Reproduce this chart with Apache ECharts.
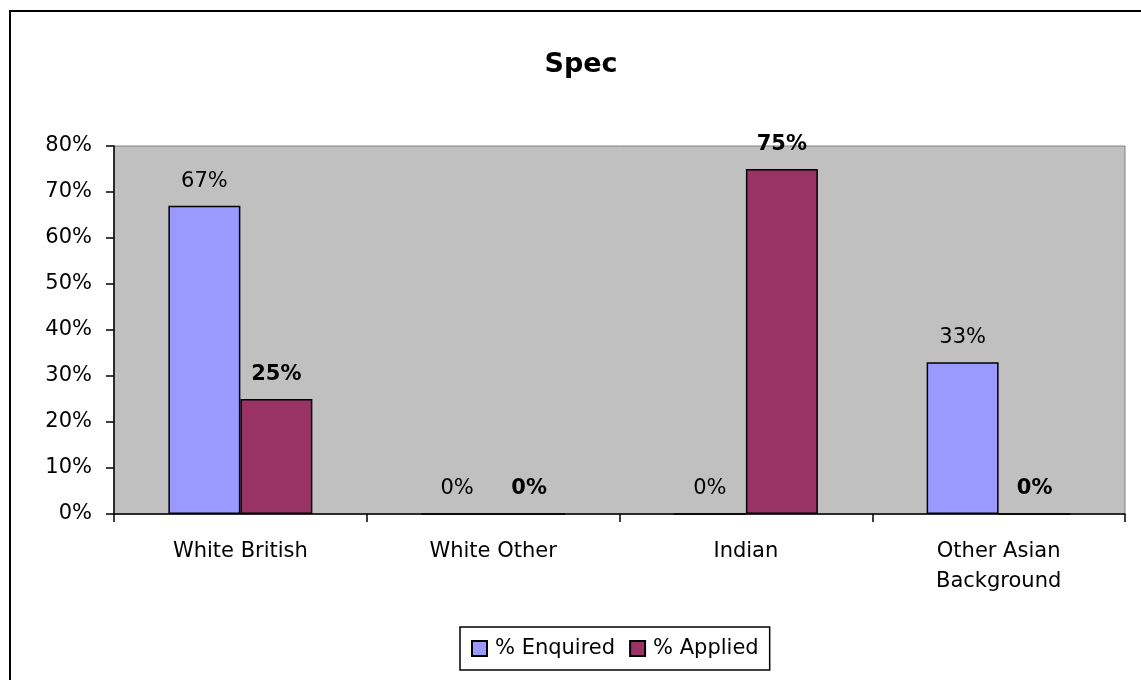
<!DOCTYPE html>
<html>
<head>
<meta charset="utf-8">
<script src="https://cdn.jsdelivr.net/npm/echarts@6/dist/echarts.min.js"></script>
<style>
  html, body { margin: 0; padding: 0; background: #fff; }
  #chart { width: 1141px; height: 680px; }
</style>
</head>
<body>
<div id="chart"></div>
<script>
// Ethnicity breakdown for "Spec"
const categories = ['White British', 'White Other', 'Indian', 'Other Asian\nBackground'];
const enquired = [67, 0, 0, 33];   // % Enquired
const applied = [25, 0, 75, 0];    // % Applied
const yTicks = { min: 0, max: 80, interval: 10 };

const FONT = 'DejaVu Sans';
const chart = echarts.init(document.getElementById('chart'), null, { renderer: 'canvas' });

chart.setOption({
  backgroundColor: '#ffffff',
  animation: false,
  textStyle: { fontFamily: FONT },
  graphic: [{
    type: 'rect',
    shape: { x: 10, y: 11, width: 1400, height: 900 },
    style: { fill: 'none', stroke: '#000', lineWidth: 2 },
    silent: true
  }],
  title: {
    text: 'Spec',
    left: 576,
    top: 46,
    textAlign: 'center',
    textStyle: { fontFamily: FONT, fontSize: 27, fontWeight: 'bold', color: '#000' }
  },
  legend: {
    left: 460,
    top: 627,
    orient: 'horizontal',
    icon: 'rect',
    padding: [11, 11, 11, 11],
    itemGap: 14,
    itemWidth: 15,
    itemHeight: 15,
    borderColor: '#000',
    borderWidth: 1.5,
    backgroundColor: '#fff',
    textStyle: { fontFamily: FONT, fontSize: 21, color: '#000', padding: [0, 0, 0, 3] },
    data: ['% Enquired', '% Applied']
  },
  grid: {
    left: 114, right: 16, top: 146, bottom: 166,
    show: true,
    backgroundColor: '#C0C0C0',
    borderColor: '#808080',
    borderWidth: 1
  },
  xAxis: {
    type: 'category',
    data: categories,
    axisLine: { show: true, lineStyle: { color: '#000', width: 1.5 } },
    axisTick: { show: true, length: 8, lineStyle: { color: '#000', width: 1.5 } },
    axisLabel: {
      fontFamily: FONT, fontSize: 21, color: '#000', margin: 23, lineHeight: 30
    }
  },
  yAxis: {
    type: 'value',
    min: yTicks.min, max: yTicks.max, interval: yTicks.interval,
    splitLine: { show: false },
    axisLine: { show: true, lineStyle: { color: '#000', width: 1.5 } },
    axisTick: { show: true, length: 8, lineStyle: { color: '#000', width: 1.5 } },
    axisLabel: { fontFamily: FONT, fontSize: 21, color: '#000', margin: 22, formatter: '{value}%' }
  },
  series: [
    {
      name: '% Enquired',
      type: 'bar',
      data: enquired,
      barWidth: 72,
      barGap: '0%',
      itemStyle: { color: '#9999FF', borderColor: '#000', borderWidth: 1.5 },
      label: {
        show: true, position: 'top', distance: 14,
        fontFamily: FONT, fontSize: 21, color: '#000',
        formatter: p => p.value + '%'
      }
    },
    {
      name: '% Applied',
      type: 'bar',
      data: applied,
      barWidth: 72,
      barGap: '0%',
      itemStyle: { color: '#993366', borderColor: '#000', borderWidth: 1.5 },
      label: {
        show: true, position: 'top', distance: 14,
        fontFamily: FONT, fontSize: 21, fontWeight: 'bold', color: '#000',
        formatter: p => p.value + '%'
      }
    }
  ]
});
</script>
</body>
</html>
